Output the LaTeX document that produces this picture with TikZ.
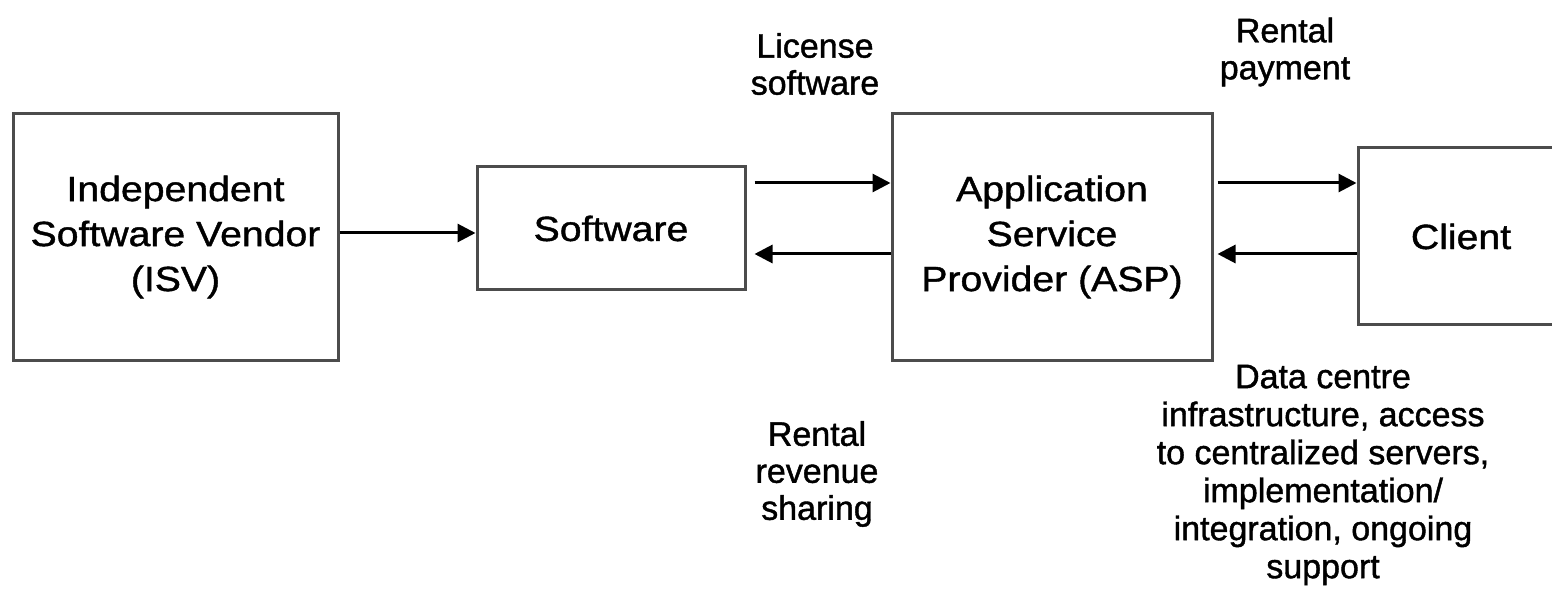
\documentclass[tikz,border=0pt]{standalone}
\usepackage{fontspec}
\setmainfont[FakeBold=1.2]{Liberation Sans}
\newfontfamily\boxfont[FakeStretch=1.12, FakeBold=1.2]{Liberation Sans}
\usetikzlibrary{arrows.meta}
\tikzset{
  box/.style={draw=black!70, line width=3pt, inner sep=0pt, align=center,
    font=\boxfont\fontsize{35}{45}\selectfont},
  flow/.style={line width=3pt, -{Triangle[length=18pt,width=18pt]}},
  lbl/.style={align=center, inner sep=0pt, font=\fontsize{34}{37}\selectfont},
}
\begin{document}
\begin{tikzpicture}[x=1pt, y=-1pt]
    \clip (0,0) rectangle (1552,593);
    % 方框
    \node[box, minimum width=325, minimum height=246] (isv) at (175.5,237) {Independent\\Software Vendor\\(ISV)};
    \node[box, minimum width=268, minimum height=123] (sw) at (611,228.5) {Software};
    \node[box, minimum width=320, minimum height=246] (asp) at (1052,237) {Application\\Service\\Provider (ASP)};
    \node[box, minimum width=206, minimum height=177] (cl) at (1461,236.5) {Client};
    
    % 箭头
    \coordinate (swr) at ([xshift=8pt]sw.east);
    \coordinate (aspr) at ([xshift=4pt]asp.east);
    \draw[flow] (isv.east |- 0,233) -- (sw.west |- 0,233);
    \draw[flow] (swr |- 0,183) -- (asp.west |- 0,183);
    \draw[flow] (asp.west |- 0,254) -- (swr |- 0,254);
    \draw[flow] (aspr |- 0,183) -- (cl.west |- 0,183);
    \draw[flow] (cl.west |- 0,254) -- (aspr |- 0,254);
    
    % 标签
    \node[lbl] (lic) at (815,64) {License\\software};
    \node[lbl] (pay) at (1285,52) {Rental\\payment};
    \node[lbl] (rev) at (817,474) {Rental\\revenue\\sharing};
    \node[lbl, font=\fontsize{34}{38}\selectfont] (dc) at (1323,475) {Data centre\\infrastructure, access\\to centralized servers,\\implementation/\\integration, ongoing\\support};
\end{tikzpicture}
\end{document}
